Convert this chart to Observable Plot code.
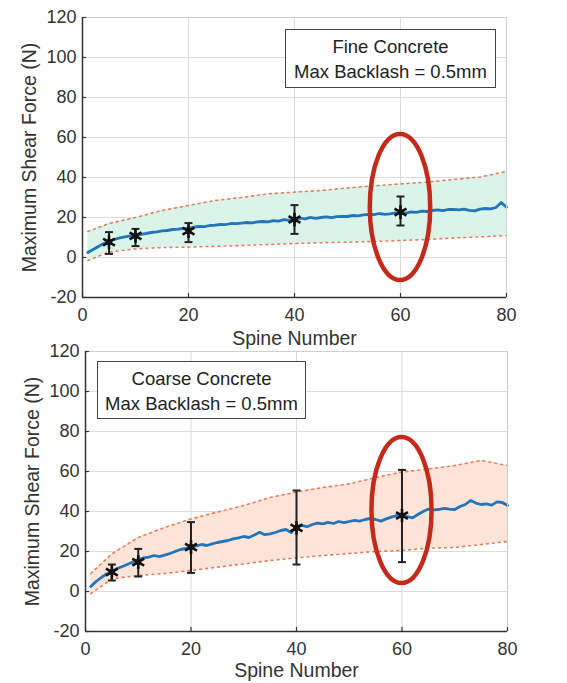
<!DOCTYPE html>
<html>
<head>
<meta charset="utf-8">
<script src="https://cdn.jsdelivr.net/npm/d3@7"></script>
<script src="https://cdn.jsdelivr.net/npm/@observablehq/plot@0.6"></script>
<style>
  body { margin: 0; background: #fff; font-family: "Liberation Sans", Arial, sans-serif; }
  #wrap { position: relative; width: 567px; height: 683px; overflow: hidden; }
  .panel { position: absolute; left: 0; }
  .legend {
    position: absolute; box-sizing: border-box; background: #fff;
    border: 1.5px solid #444; color: #222; font-size: 18.5px;
    text-align: center; line-height: 25px; padding-top: 4px;
  }
</style>
</head>
<body>
<div id="wrap"></div>
<script>
// Spine numbers along the x axis
const spines = d3.range(1, 81);
const boundSpines = [1, 5, 10, 15, 20, 25, 30, 35, 40, 45, 50, 55, 60, 65, 70, 75, 80];
const errSpines = [5, 10, 20, 40, 60];
const xTicks = [0, 20, 40, 60, 80];
const yTicks = [-20, 0, 20, 40, 60, 80, 100, 120];

// Fine concrete
const fineMean = [2.5, 4, 5.5, 7, 8.2, 9, 9.8, 10.3, 10.8, 11.2, 11.6, 12, 12.5, 12.8, 13.3, 13.5, 14, 14.2, 14.5, 14.6,
  15.2, 15.5, 15.4, 16, 16.2, 16.5, 16.4, 17, 16.9, 17.2, 17.5, 17.3, 17.8, 18, 17.8, 18.4, 18.2, 18.9, 18.6, 19.4,
  19.7, 19.3, 20.1, 19.6, 20, 20.3, 19.9, 20.4, 20.6, 20.5, 21, 20.8, 21.3, 21.6, 21.4, 22, 21.6, 21.8, 22.3, 22.4,
  22.2, 22.8, 22.6, 23.2, 23, 23.5, 23.8, 23.4, 24, 24.1, 23.8, 24.2, 23.6, 23.3, 24.2, 24.5, 24.3, 25, 27.5, 25.2];
const fineUpper = [13, 17, 20, 23.5, 26, 28.5, 30, 31.8, 32.7, 33.5, 34.8, 35.8, 36.8, 37.7, 39, 40.2, 43];
const fineLower = [-1.5, 2.7, 4.3, 5, 5.2, 5.6, 6, 6.5, 7, 7.4, 7.7, 8, 8.5, 9, 9.8, 10.3, 11];
const fineErrMean = [7.7, 10.8, 13.2, 19, 22.7];
const fineErrLow = [1.8, 5.7, 7.7, 11.8, 16];
const fineErrHigh = [12.7, 14.3, 17.2, 26.2, 30.5];

// Coarse concrete
const coarseMean = [2.5, 5, 7, 8.8, 10, 11.5, 12.5, 13.6, 14.8, 16, 16.8, 17.2, 18, 17.4, 18.2, 19, 20, 21, 21.5, 22.2,
  22.8, 23.5, 23, 23.8, 24.5, 25, 25.5, 26.3, 26.8, 27.5, 27, 28.2, 29.6, 28.4, 28.8, 29.5, 30.5, 31, 29.5, 32.5,
  33, 32.4, 33.5, 34.2, 33.8, 34.6, 34, 35, 34.4, 35, 35.6, 35.2, 36, 36.5, 36, 35.2, 36.3, 37.2, 38, 38.3,
  37.5, 36.8, 38.5, 40, 41.2, 40.8, 41, 41.6, 41.2, 41, 42.5, 43.5, 45.5, 44.2, 43.5, 43.8, 43.2, 44.8, 44.5, 43];
const coarseUpper = [9, 18.8, 27, 32, 36.3, 39.7, 43, 47, 49.7, 52, 53.8, 57, 59.7, 61.3, 63, 65.5, 63];
const coarseLower = [-1, 6.3, 8, 9, 10.5, 12.2, 13.8, 15.5, 16.8, 18, 19, 20, 20.5, 21.7, 22, 23.5, 25];
const coarseErrMean = [9.7, 14.7, 22.2, 31.8, 38];
const coarseErrLow = [5.5, 7.5, 9.3, 13.5, 14.7];
const coarseErrHigh = [13.5, 21.3, 34.7, 50.5, 60.8];

// Highlight ellipses around spine 60 (center, radii in data units)
const fineHighlight = { x: 60, y: 25, rx: 5.7, ry: 36.5 };
const coarseHighlight = { x: 60, y: 40.5, rx: 5.7, ry: 36.5 };

// Plain hyphen for negative tick labels
const fmt = d => String(d);

function panel({ mean, upper, lower, errMean, errLow, errHigh, bandFill, highlight,
                 top, height, marginLeft, marginRight, marginBottom, labelOffset }) {
  const line = spines.map((s, i) => ({ x: s, y: mean[i] }));
  const band = boundSpines.map((s, i) => ({ x: s, lo: lower[i], hi: upper[i] }));
  const errs = errSpines.map((s, i) => ({ x: s, y: errMean[i], lo: errLow[i], hi: errHigh[i] }));
  const capW = 0.75;

  const plot = Plot.plot({
    width: 567, height,
    marginTop: 17, marginBottom, marginLeft, marginRight,
    style: { fontFamily: "Liberation Sans, Arial, sans-serif", fontSize: "18px", color: "#333", background: "transparent", overflow: "visible" },
    x: { domain: [0, 80] },
    y: { domain: [-20, 120] },
    marks: [
      Plot.gridX(xTicks, { stroke: "#dcdcdc", strokeOpacity: 1 }),
      Plot.gridY(yTicks, { stroke: "#dcdcdc", strokeOpacity: 1 }),
      Plot.areaY(band, { x: "x", y1: "lo", y2: "hi", fill: bandFill, fillOpacity: 1 }),
      Plot.lineY(band, { x: "x", y: "hi", stroke: "#e5805e", strokeWidth: 1.6, strokeDasharray: "2,4" }),
      Plot.lineY(band, { x: "x", y: "lo", stroke: "#e5805e", strokeWidth: 1.6, strokeDasharray: "2,4" }),
      Plot.lineY(line, { x: "x", y: "y", stroke: "#2275b8", strokeWidth: 2.8 }),
      Plot.ruleX(errs, { x: "x", y1: "lo", y2: "hi", stroke: "#222", strokeWidth: 2 }),
      Plot.link(errs, { x1: d => d.x - capW, x2: d => d.x + capW, y1: "hi", y2: "hi", stroke: "#222", strokeWidth: 2 }),
      Plot.link(errs, { x1: d => d.x - capW, x2: d => d.x + capW, y1: "lo", y2: "lo", stroke: "#222", strokeWidth: 2 }),
      Plot.dot(errs, { x: "x", y: "y", symbol: "asterisk", r: 6.5, stroke: "#111", strokeWidth: 2.6 }),
      Plot.dot(errs, { x: "x", y: "y", r: 3, fill: "#111" }),
      Plot.frame({ stroke: "#d0d0d0" }),
      Plot.ruleY([-20], { stroke: "#333", strokeWidth: 1.5 }),
      Plot.ruleX([0], { stroke: "#333", strokeWidth: 1.5 }),
      // short inward tick marks
      Plot.ruleX(xTicks, { y1: -20, y2: -18, stroke: "#333", strokeWidth: 1.2 }),
      Plot.ruleY(yTicks, { x1: 0, x2: 0.8, stroke: "#333", strokeWidth: 1.2 }),
      Plot.axisX(xTicks, { tickSize: 0, tickPadding: 11, fontSize: 18, tickFormat: fmt, label: "Spine Number",
        labelAnchor: "center", labelOffset, labelArrow: "none" }),
      Plot.axisY(yTicks, { tickSize: 0, tickPadding: 6, fontSize: 18, tickFormat: fmt, label: "Maximum Shear Force (N)",
        labelAnchor: "center", labelOffset: 60, labelArrow: "none" })
    ]
  });

  // Axis titles a touch larger than the tick labels
  d3.select(plot).selectAll('[aria-label="x-axis label"], [aria-label="y-axis label"]').attr("font-size", 19.5);

  // Red ellipse drawn through the plot's own scales
  const sx = plot.scale("x"), sy = plot.scale("y");
  const cx = sx.apply(highlight.x), cy = sy.apply(highlight.y);
  const rx = Math.abs(sx.apply(highlight.x + highlight.rx) - cx);
  const ry = Math.abs(sy.apply(highlight.y + highlight.ry) - cy);
  d3.select(plot).append("ellipse")
    .attr("cx", cx).attr("cy", cy).attr("rx", rx).attr("ry", ry)
    .attr("fill", "none").attr("stroke", "#c42a1a").attr("stroke-width", 4.5);

  plot.classList.add("panel");
  plot.style.top = top + "px";
  return plot;
}

const wrap = document.getElementById("wrap");
wrap.appendChild(panel({
  mean: fineMean, upper: fineUpper, lower: fineLower,
  errMean: fineErrMean, errLow: fineErrLow, errHigh: fineErrHigh,
  bandFill: "#daf4ea", highlight: fineHighlight,
  top: 0, height: 350, marginLeft: 82, marginRight: 61, marginBottom: 53, labelOffset: 47
}));
wrap.appendChild(panel({
  mean: coarseMean, upper: coarseUpper, lower: coarseLower,
  errMean: coarseErrMean, errLow: coarseErrLow, errHigh: coarseErrHigh,
  bandFill: "#fde4d8", highlight: coarseHighlight,
  top: 334, height: 349, marginLeft: 85, marginRight: 60, marginBottom: 52, labelOffset: 45
}));

function legend(lines, left, top, width, height) {
  const div = document.createElement("div");
  div.className = "legend";
  Object.assign(div.style, { left: left + "px", top: top + "px", width: width + "px", height: height + "px" });
  lines.forEach(t => { const p = document.createElement("div"); p.textContent = t; div.appendChild(p); });
  wrap.appendChild(div);
}
legend(["Fine Concrete", "Max Backlash = 0.5mm"], 285, 29, 211, 59);
legend(["Coarse Concrete", "Max Backlash = 0.5mm"], 97, 361, 209, 58);
</script>
</body>
</html>
